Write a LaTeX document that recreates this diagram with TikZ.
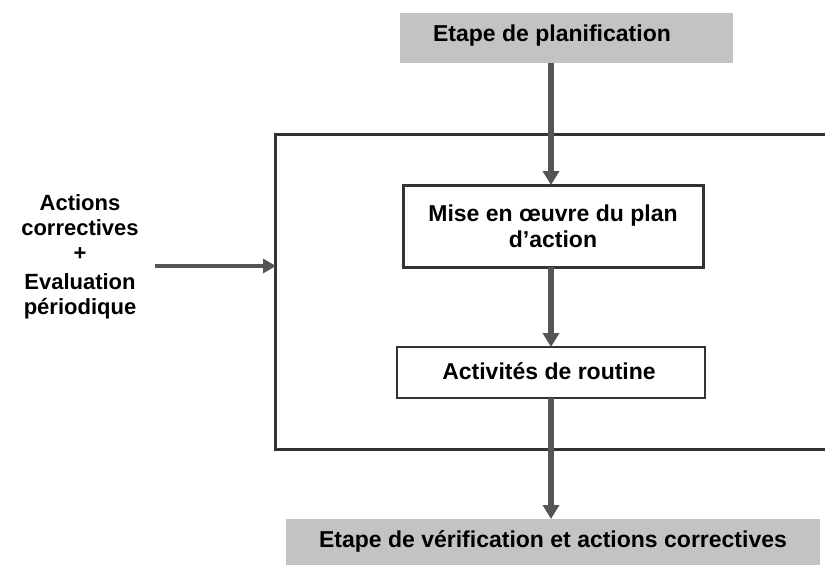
\documentclass[tikz,border=0pt]{standalone}
\usepackage{fontspec}
\setmainfont{Liberation Sans}
\usetikzlibrary{arrows.meta}
\definecolor{boxgray}{HTML}{C3C3C3}
\definecolor{arrowgray}{HTML}{555555}
\definecolor{framegray}{HTML}{333333}
\begin{document}
\begin{tikzpicture}[x=1pt,y=-1pt,
  txt/.style={font=\fontsize{23}{25}\selectfont\bfseries, align=center, inner sep=0pt},
  graybox/.style={fill=boxgray, draw=none},
  flowarrow/.style={draw=arrowgray, line width=6pt, -{Triangle[width=16pt,length=14pt]}},
  sidearrow/.style={draw=arrowgray, line width=4.5pt, -{Triangle[width=14pt,length=13pt]}},
  framebox/.style={draw=framegray, line width=3pt},
  stepbox/.style={draw=framegray, fill=white, line width=3pt}
]
\useasboundingbox (0,0) rectangle (825,565);
% frame (right side open at picture edge)
\draw[framebox] (826,134) -- (275,134) -- (275,449) -- (826,449);
% gray boxes
\fill[graybox] (400,13) rectangle (733,63);
\node[txt] (plan) at (552,36) {Etape de planification};
\coordinate (planS) at (551,63);
\fill[graybox] (286,519) rectangle (820,566);
\node[txt] (verif) at (553,541) {Etape de vérification et actions correctives};
\coordinate (verifN) at (551,519);
% inner boxes
\draw[stepbox] (403,185) rectangle (703,267);
\node[txt] (mise) at (553,226) {Mise en œuvre du plan\\[1pt]d'action};
\coordinate (miseN) at (551,185);
\coordinate (miseS) at (551,267);
\draw[stepbox, line width=2.5pt] (397,347) rectangle (705,398);
\node[txt] (rout) at (549,371) {Activités de routine};
\coordinate (routN) at (551,347);
\coordinate (routS) at (551,398);
% left text
\node[txt, font=\fontsize{22}{25}\selectfont\bfseries] (act) at (80,257) {Actions\\correctives\\+\\[4pt]Evaluation\\périodique};
\coordinate (lstart) at (155,266);
\coordinate (lend) at (276,266);
% arrows
\draw[flowarrow] (planS) -- (miseN);
\draw[flowarrow] (miseS) -- (routN);
\draw[flowarrow] (routS) -- (verifN);
\draw[sidearrow] (lstart) -- (lend);
\end{tikzpicture}
\end{document}
